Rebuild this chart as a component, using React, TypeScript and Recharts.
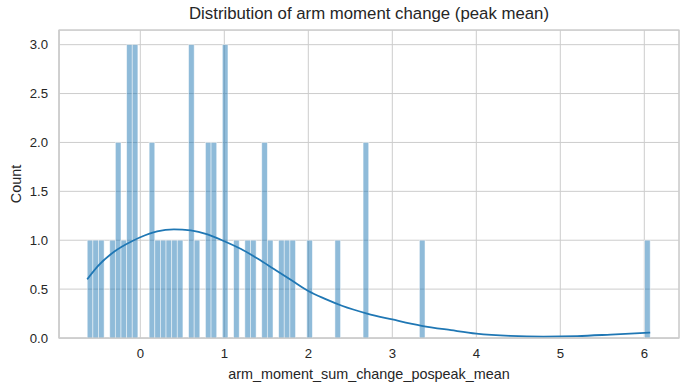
import React from 'react'
import {
  ComposedChart,
  Bar,
  Line,
  XAxis,
  YAxis,
  CartesianGrid,
  ReferenceArea,
} from 'recharts'

// histogram: 100 bins, counts read bin by bin off the picture
const binStart = -0.632
const binWidth = 0.06702
const binCounts = [
  1, 1, 1, 0, 1, 2, 1, 3, 3, 0, 0, 2, 1, 1, 1, 1, 1, 0, 3, 1,
  0, 2, 2, 0, 3, 0, 1, 0, 1, 1, 0, 2, 1, 0, 1, 1, 1, 0, 0, 1,
  0, 0, 0, 0, 1, 0, 0, 0, 0, 2, 0, 0, 0, 0, 0, 0, 0, 0, 0, 1,
  0, 0, 0, 0, 0, 0, 0, 0, 0, 0, 0, 0, 0, 0, 0, 0, 0, 0, 0, 0,
  0, 0, 0, 0, 0, 0, 0, 0, 0, 0, 0, 0, 0, 0, 0, 0, 0, 0, 0, 1,
]

// kde curve, read at these x positions
const kdeX = [
  -0.632, -0.5, -0.3, -0.1, 0, 0.2, 0.4, 0.6, 0.8, 1.0, 1.2, 1.4, 1.6, 1.8,
  2.0, 2.2, 2.4, 2.7, 3.0, 3.35, 3.7, 4.0, 4.4, 4.8, 5.2, 5.6, 6.07,
]
const kdeY = [
  0.6, 0.74, 0.89, 0.99, 1.03, 1.09, 1.11, 1.1, 1.06, 0.99, 0.91, 0.81, 0.7,
  0.59, 0.48, 0.4, 0.33, 0.25, 0.19, 0.125, 0.08, 0.045, 0.022, 0.015, 0.02,
  0.035, 0.055,
]

const xTicks = [0, 1, 2, 3, 4, 5, 6]
const yTicks = [0, 0.5, 1, 1.5, 2, 2.5, 3]
const xDomain = [-0.968, 6.413]
const yDomain = [0, 3.15]

const W = 688
const H = 391
const margin = { top: 30, right: 9, bottom: 0, left: 0 }
const yAxisW = 59
const plotW = W - yAxisW - margin.right
const barPx = (binWidth * plotW) / (xDomain[1] - xDomain[0])

const font = '"Liberation Sans", Arial, sans-serif'
const ink = '#262626'
const gridColor = '#cccccc'

// recharts gives thin bars on a number axis, so draw each bin at full width
const BinBar = (p: any) => {
  if (!p.height) return null
  const cx = p.x + p.width / 2
  return (
    <rect
      x={cx - barPx / 2}
      y={p.y}
      width={barPx}
      height={p.height}
      fill="#1f77b4"
      fillOpacity={0.5}
      stroke="#ffffff"
      strokeOpacity={0.6}
      strokeWidth={0.8}
    />
  )
}

export default function App() {
  const histData = binCounts.map((c, i) => ({
    x: binStart + (i + 0.5) * binWidth,
    count: c,
  }))
  const kdeData = kdeX.map((x, i) => ({ x, kde: kdeY[i] }))

  return (
    <div
      style={{
        position: 'absolute',
        left: 0,
        top: 0,
        width: W,
        height: H,
        background: '#fff',
        fontFamily: font,
      }}
    >
      <svg
        width={W}
        height={30}
        style={{ position: 'absolute', left: 0, top: 0 }}
      >
        <text
          x={369}
          y={19}
          textAnchor="middle"
          fontSize={16.8}
          fill={ink}
          fontFamily={font}
        >
          Distribution of arm moment change (peak mean)
        </text>
      </svg>
      <ComposedChart
        width={W}
        height={H}
        data={histData}
        margin={margin}
        barGap={0}
        barCategoryGap={0}
      >
        <CartesianGrid stroke={gridColor} strokeWidth={1} />
        <XAxis
          dataKey="x"
          type="number"
          domain={xDomain}
          ticks={xTicks}
          allowDataOverflow
          height={53}
          tickLine={false}
          tickSize={0}
          tickMargin={11}
          axisLine={{ stroke: gridColor, strokeWidth: 1.25 }}
          tick={{ fill: ink, fontSize: 13.2, fontFamily: font }}
          label={{
            content: () => (
              <text
                x={369}
                y={378.5}
                textAnchor="middle"
                fontSize={14.4}
                fill={ink}
                fontFamily={font}
              >
                arm_moment_sum_change_pospeak_mean
              </text>
            ),
          }}
        />
        <YAxis
          type="number"
          domain={yDomain}
          ticks={yTicks}
          allowDataOverflow
          width={yAxisW}
          tickLine={false}
          tickSize={0}
          tickMargin={11}
          tickFormatter={(v: number) => v.toFixed(1)}
          axisLine={{ stroke: gridColor, strokeWidth: 1.25 }}
          tick={{ fill: ink, fontSize: 13.2, fontFamily: font }}
          label={{
            content: () => (
              <text
                x={21}
                y={184}
                transform="rotate(-90, 21, 184)"
                textAnchor="middle"
                fontSize={14.4}
                fill={ink}
                fontFamily={font}
              >
                Count
              </text>
            ),
          }}
        />
        <ReferenceArea
          x1={xDomain[0]}
          x2={xDomain[1]}
          y1={yDomain[0]}
          y2={yDomain[1]}
          fill="none"
          stroke={gridColor}
          strokeWidth={1.25}
          ifOverflow="visible"
        />
        <Bar
          dataKey="count"
          shape={BinBar}
          isAnimationActive={false}
        />
        <Line
          data={kdeData}
          dataKey="kde"
          type="monotone"
          stroke="#1f77b4"
          strokeWidth={1.8}
          dot={false}
          activeDot={false}
          isAnimationActive={false}
        />
      </ComposedChart>
    </div>
  )
}
